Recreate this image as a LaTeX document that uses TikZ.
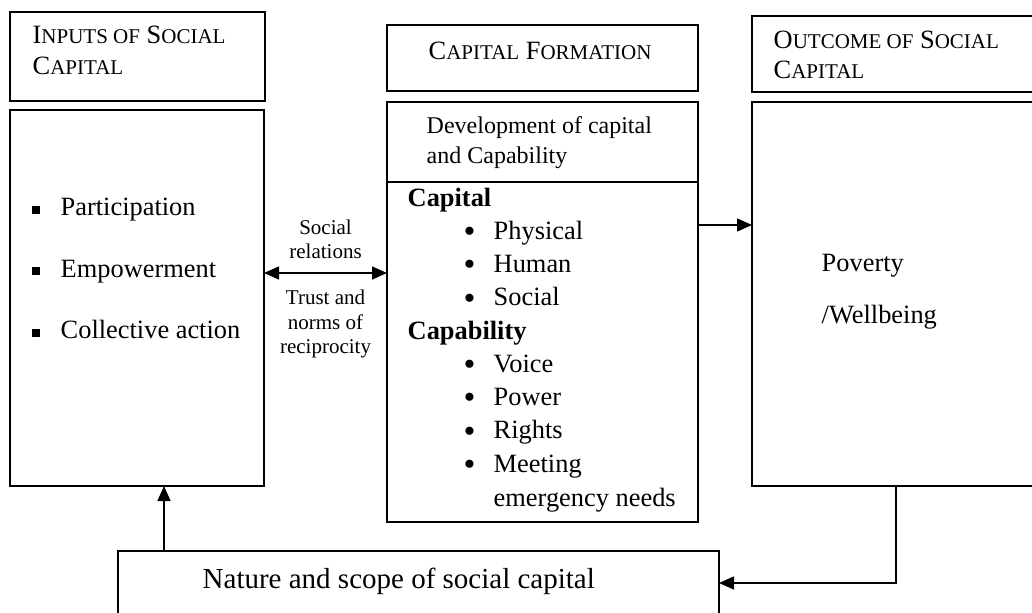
\documentclass[tikz,border=0pt]{standalone}
\usepackage{fontspec}
\setmainfont{Liberation Serif}
\usetikzlibrary{arrows.meta}

% fake small capitals, as the word processor sets them
\newcommand{\smc}[1]{{\fontsize{10.5}{12}\selectfont #1}}
% round bullet of the capital list
\newcommand{\rbul}{\makebox[15pt][l]{\fontsize{17}{16}\selectfont\raisebox{-1.6pt}{\textbullet}}}

\tikzset{every picture/.style={line width=0.7pt}}
\tikzset{
  box/.style 2 args={draw, anchor=north west, inner sep=0pt, outer sep=0pt,
    minimum width=#1*0.5pt, minimum height=#2*0.5pt},
  lbl/.style={inner sep=0pt, anchor=west, text height=9pt, text depth=3pt,
    font=\fontsize{13.2}{16}\selectfont},
  midlbl/.style={lbl, anchor=center, font=\fontsize{10.5}{12}\selectfont},
  tip/.style={-{Triangle[length=7.5pt,width=6.5pt]}},
  tips/.style={{Triangle[length=7.5pt,width=6.5pt]}-{Triangle[length=7.5pt,width=6.5pt]}},
}

\begin{document}
\begin{tikzpicture}[x=0.5pt,y=0.5pt,yscale=-1,xscale=1]
\useasboundingbox (0,0) rectangle (1032,612);

%Boxes
\node[box={255}{89}] (intitle) at (10,12) {};
\node[box={254}{376}] (inbox) at (10,110) {};
\node[box={311}{66}] (cftitle) at (387,25) {};
\node[box={311}{80}] (devbox) at (387,102) {};
\node[box={311}{340}] (capbox) at (387,182) {};
\node[box={290}{76}] (outtitle) at (752,16) {};
\node[box={290}{384}] (outbox) at (752,102) {};
\node[box={601}{75}] (scopebox) at (118,551) {};

% Titles
\node[lbl] (in-t1) at (32,37) {I\smc{NPUTS OF} S\smc{OCIAL}};
\node[lbl] (in-t2) at (32,68) {C\smc{APITAL}};
\node[lbl] (cf-t) at (428,53) {C\smc{APITAL} F\smc{ORMATION}};
\node[lbl] (out-t1) at (773,42) {O\smc{UTCOME OF} S\smc{OCIAL}};
\node[lbl] (out-t2) at (773,72) {C\smc{APITAL}};

% Inputs
\foreach \txt [count=\i] in {Participation, Empowerment, Collective action}
  \node[lbl] (in-\i) at (31,148+61.5*\i) {\rule[1pt]{4pt}{4pt}\hspace{10.5pt}\txt};

% Social relations
\node[midlbl] (sr-1) at (325.5,228) {Social};
\node[midlbl] (sr-2) at (325.5,252) {relations};
\node[midlbl] (tr-1) at (325.5,298) {Trust and};
\node[midlbl] (tr-2) at (325.5,323) {norms of};
\node[midlbl] (tr-3) at (325.5,347) {reciprocity};

% Capital formation
\node[lbl, font=\fontsize{12}{14}\selectfont] (dev-1) at (426,127) {Development of capital};
\node[lbl, font=\fontsize{12}{14}\selectfont] (dev-2) at (426,157) {and Capability};
\node[lbl] (cap-h) at (407,200) {\textbf{Capital}};
\foreach \txt [count=\i] in {Physical, Human, Social}
  \node[lbl] (cap-\i) at (463,200+33.3*\i) {\rbul\txt};
\node[lbl] (abl-h) at (407,333) {\textbf{Capability}};
\foreach \txt [count=\i] in {Voice, Power, Rights, Meeting}
  \node[lbl] (abl-\i) at (463,333+33.3*\i) {\rbul\txt};
\node[lbl] (abl-5) at (493,500) {emergency needs};

% Outcome
\node[lbl] (pov-1) at (821,265) {Poverty};
\node[lbl] (pov-2) at (821,317) {/Wellbeing};

% Nature and scope
\node[lbl, font=\fontsize{14.5}{17}\selectfont] (scope-t) at (202,582) {Nature and scope of social capital};

% Connectors
\coordinate (srel) at (325,273);
\draw[tips] (inbox.east |- srel) -- (capbox.west |- srel);
\coordinate (cf) at (725,225);
\draw[tip] (capbox.east |- cf) -- (outbox.west |- cf);
\coordinate (up) at (164,520);
\draw[tip] (scopebox.north -| up) -- (inbox.south -| up);
\coordinate (dn) at (896,583);
\draw[tip] (outbox.south -| dn) -- (dn) -- (scopebox.east |- dn);
\end{tikzpicture}
\end{document}
